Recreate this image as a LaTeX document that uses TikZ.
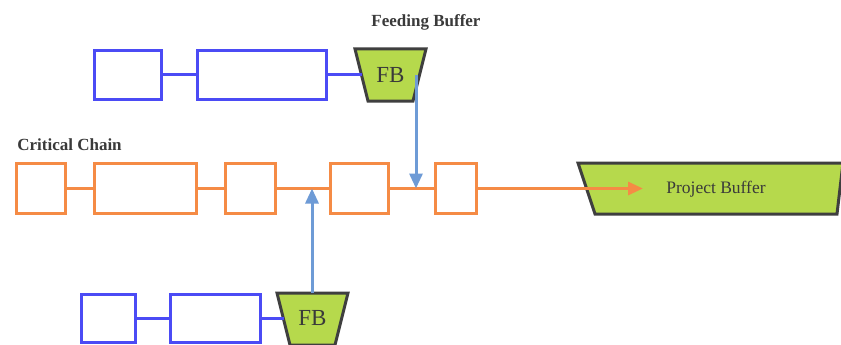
\documentclass[tikz,border=0pt]{standalone}
\usepackage{fontspec}
\setmainfont{Liberation Serif}
\usetikzlibrary{arrows.meta}
\definecolor{chainblue}{HTML}{4B4BF5}
\definecolor{chainorange}{HTML}{F58B45}
\definecolor{bufgreen}{HTML}{B6D94C}
\definecolor{bufedge}{HTML}{3F3F3F}
\definecolor{feedblue}{HTML}{6E9BD6}
\definecolor{txt}{HTML}{3A3A3A}
\begin{document}
\begin{tikzpicture}[x=1pt,y=-1pt,
  task/.style={draw, line width=3pt, fill=white, inner sep=0pt},
  feedtask/.style={task, draw=chainblue},
  crittask/.style={task, draw=chainorange},
  feedlink/.style={draw=chainblue, line width=3pt},
  critlink/.style={draw=chainorange, line width=3pt},
  buffer/.style={draw=bufedge, fill=bufgreen, line width=3pt, line join=miter},
  feedarrow/.style={draw=feedblue, line width=3pt, -{Triangle[length=15pt,width=13pt]}},
  critarrow/.style={draw=chainorange, line width=3pt, -{Triangle[length=15pt,width=13pt]}},
  label/.style={text=txt, font=\bfseries\fontsize{17}{20}\selectfont, inner sep=0pt},
  buftext/.style={text=txt, inner sep=0pt}
]
\useasboundingbox (0,0) rectangle (841,345);
\fill[white] (0,0) rectangle (841,345);

% labels
\node[label] (lfb) at (426,22) {Feeding Buffer};
\node[label] (lcc) at (69.5,145) {Critical Chain};

% top feeding chain
\node[feedtask, minimum width=67pt, minimum height=49pt] (a1) at (128,75) {};
\node[feedtask, minimum width=129pt, minimum height=49pt] (a2) at (262,75) {};
\draw[buffer] (355,49) -- (426,49) -- (413,101) -- (368,101) -- cycle;
\node[buftext, font=\fontsize{23}{26}\selectfont] (fb1) at (390.5,75) {FB};
\coordinate (fb1w) at (361.5,75);
\coordinate (fb1out) at (416,75);
\draw[feedlink] (a1.east) -- (a2.west);
\draw[feedlink] (a2.east) -- (fb1w);

% critical chain
\node[crittask, minimum width=49pt, minimum height=50pt] (c1) at (41,188.5) {};
\node[crittask, minimum width=102pt, minimum height=50pt] (c2) at (145.5,188.5) {};
\node[crittask, minimum width=50pt, minimum height=50pt] (c3) at (250.5,188.5) {};
\node[crittask, minimum width=58pt, minimum height=50pt] (c4) at (359.5,188.5) {};
\node[crittask, minimum width=41pt, minimum height=50pt] (c5) at (456,188.5) {};
\draw[critlink] (c1.east) -- (c2.west);
\draw[critlink] (c2.east) -- (c3.west);
\draw[critlink] (c3.east) -- (c4.west);
\draw[critlink] (c4.east) -- (c5.west);
\coordinate (m34) at (312,188.5);
\coordinate (m45) at (416,188.5);

% project buffer
\draw[buffer] (578,163) -- (843,163) -- (837,214) -- (595,214) -- cycle;
\node[buftext, font=\fontsize{17.5}{20}\selectfont] (pb) at (716,189) {Project Buffer};
\coordinate (pbin) at (643,188.5);
\draw[critarrow] (c5.east) -- (pbin);

% bottom feeding chain
\node[feedtask, minimum width=54pt, minimum height=48pt] (b1) at (108.5,318.5) {};
\node[feedtask, minimum width=90pt, minimum height=48pt] (b2) at (215.5,318.5) {};
\draw[buffer] (277,293) -- (348,293) -- (335,345) -- (290,345) -- cycle;
\node[buftext, font=\fontsize{23}{26}\selectfont] (fb2) at (312.5,318) {FB};
\coordinate (fb2w) at (283.5,318.5);
\coordinate (fb2out) at (312,293);
\draw[feedlink] (b1.east) -- (b2.west);
\draw[feedlink] (b2.east) -- (fb2w);

% feeding arrows
\draw[feedarrow] (fb1out) -- (m45);
\draw[feedarrow] (fb2out) -- (m34);
\end{tikzpicture}
\end{document}
